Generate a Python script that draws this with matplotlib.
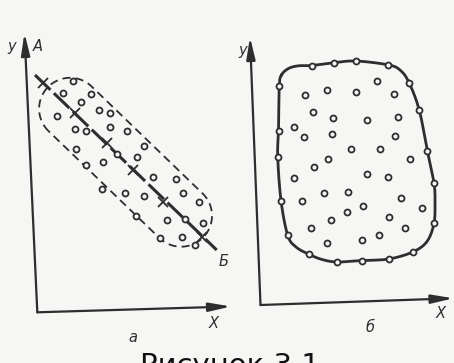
import numpy as np
import matplotlib
matplotlib.use("Agg")
import matplotlib.pyplot as plt
from matplotlib.patches import FancyArrowPatch

# ---------------- data (pixel coordinates of the scanned diagram) ----------------
# Panel a: points scattered along the line A-B
a_circles_x = [72.7, 63.3, 81, 90.7, 99.3, 110, 57.3, 75, 86, 110, 127.3, 144, 76, 117.3,
               136.7, 86, 103.3, 152.7, 175.7, 101.7, 125, 144, 183.3, 199.3, 136, 166.7,
               185, 202.7, 160, 181.7, 195]
a_circles_y = [80.7, 92.7, 101.7, 94.3, 110, 112.7, 115.7, 129.3, 131, 126.7, 130.7, 145.7,
               149.3, 154.3, 157.3, 165, 161.7, 176.7, 179, 189.3, 192.7, 196, 193.3, 202.3,
               216, 220, 219.3, 222.7, 238.3, 237.3, 245]
a_cross_x = [43.3, 75, 106.7, 133.3, 163.3, 201.7]
a_cross_y = [83.3, 113.3, 143.3, 170, 201.7, 236.7]
a_line_x = [35, 216.7]
a_line_y = [75, 250]
capsule_ends_x = [70.1, 181.0]
capsule_ends_y = [108.8, 215.7]
capsule_halfwidth = 31.0

# Panel b: interior points and points on the boundary
b_in_x = [376.7, 305, 326.7, 356, 394, 312.7, 332.7, 366.7, 398.3, 294.3, 304.3, 331.7,
          395.3, 350.7, 380, 328.3, 314, 410, 294.3, 366.7, 388.3, 324, 348.3, 301.7,
          400.7, 346.7, 363.3, 422, 330.7, 388.7, 310.7, 405, 326.7, 362, 379.3]
b_in_y = [81, 95, 90, 92.3, 94.3, 111.7, 117.7, 120, 116.7, 126.7, 136.7, 134.3, 135.7,
          149, 149, 159, 167.3, 159.3, 178.3, 174, 177.3, 192.7, 191.7, 201, 198.3, 211.7,
          206, 208.3, 220, 217.3, 227.7, 227.7, 243.3, 240, 235.3]
b_edge_x = [279.3, 311.7, 334, 356, 388, 409, 419.3, 427.3, 434, 434, 412.7, 388.7, 362,
            337.3, 309, 287.7, 281, 277.7, 278.5]
b_edge_y = [86, 65.5, 62.7, 61, 64.8, 82.5, 110.3, 150.5, 182.7, 223.3, 252, 259, 260.5,
            262, 254.3, 235.3, 200.5, 156.7, 130.5]
# boundary curve control points (clockwise)
b_curve_x = [281.5, 288.5, 298.5, 311.7, 334, 356, 388, 400, 409, 419.3, 427.3, 434, 435,
             434, 427, 412.7, 388.7, 362, 337.3, 322, 309, 296, 287.7, 281, 277.7, 278.5,
             279.3]
b_curve_y = [75, 68.5, 65.8, 65.5, 62.7, 61, 64.8, 70, 82.5, 110.3, 150.5, 182.7, 203,
             223.3, 241.5, 252, 259, 260.5, 262, 259.5, 254.3, 247, 235.3, 200.5, 156.7,
             130.5, 86]

# axes (pixel coordinates): origin, x-arrow tip, y-arrow tip
axes_origin = [(37.3, 312.3), (260.5, 305)]
axes_xtip = [(231, 306.5), (453.5, 298.3)]
axes_ytip = [(24.5, 33), (250, 37)]

INK = "#2e2e2e"
BG = "#f6f6f5"

fig = plt.figure(figsize=(4.54, 3.63), dpi=100, facecolor=BG)
ax = fig.add_axes([0, 0, 1, 1])
ax.set_xlim(0, 454)
ax.set_ylim(363, 0)
ax.axis("off")
ax.set_facecolor(BG)

# ---------------- axes with arrows ----------------
for (ox, oy), (xx, xy), (yx, yy) in zip(axes_origin, axes_xtip, axes_ytip):
    for tx, ty in [(xx, xy), (yx, yy)]:
        arr = FancyArrowPatch((ox, oy), (tx, ty), arrowstyle="-|>,head_length=6,head_width=1.2",
                              mutation_scale=2.2, color=INK, lw=1.6, shrinkA=0, shrinkB=0)
        ax.add_patch(arr)

# ---------------- panel a ----------------
p1 = np.array([capsule_ends_x[0], capsule_ends_y[0]])
p2 = np.array([capsule_ends_x[1], capsule_ends_y[1]])
d = (p2 - p1) / np.linalg.norm(p2 - p1)
ang0 = np.arctan2(d[1], d[0])
t1 = np.linspace(ang0 + np.pi / 2, ang0 + 3 * np.pi / 2, 60)
t2 = np.linspace(ang0 - np.pi / 2, ang0 + np.pi / 2, 60)
cap = np.vstack([p1 + capsule_halfwidth * np.c_[np.cos(t1), np.sin(t1)],
                 p2 + capsule_halfwidth * np.c_[np.cos(t2), np.sin(t2)]])
cap = np.vstack([cap, cap[:1]])
ax.plot(cap[:, 0], cap[:, 1], color=INK, lw=1.3, ls=(0, (4.5, 2.8)))

ax.plot(a_line_x, a_line_y, color=INK, lw=2.2, ls=(0, (7, 1.6)), solid_capstyle="butt")
ax.plot(a_cross_x, a_cross_y, ls="none", marker="x", ms=7, mew=1.3, color=INK)
ax.plot(a_circles_x, a_circles_y, ls="none", marker="o", ms=4.3, mew=1.3,
        mfc=BG, mec=INK)

# ---------------- panel b ----------------
def catmull_rom_closed(xs, ys, n=20):
    pts = np.c_[xs, ys]
    m = len(pts)
    out = []
    for i in range(m):
        p0, p1_, p2_, p3 = pts[i - 1], pts[i], pts[(i + 1) % m], pts[(i + 2) % m]
        t = np.linspace(0, 1, n, endpoint=False)[:, None]
        seg = 0.5 * ((2 * p1_) + (-p0 + p2_) * t + (2 * p0 - 5 * p1_ + 4 * p2_ - p3) * t ** 2
                     + (-p0 + 3 * p1_ - 3 * p2_ + p3) * t ** 3)
        out.append(seg)
    out = np.vstack(out)
    return np.vstack([out, out[:1]])

curve = catmull_rom_closed(b_curve_x, b_curve_y)
ax.plot(curve[:, 0], curve[:, 1], color=INK, lw=2.0)
ax.plot(b_edge_x, b_edge_y, ls="none", marker="o", ms=4.3, mew=1.3, mfc=BG, mec=INK)
ax.plot(b_in_x, b_in_y, ls="none", marker="o", ms=4.3, mew=1.3, mfc=BG, mec=INK)

# ---------------- labels ----------------
lab = dict(color=INK, fontsize=10.5, fontstyle="italic", family="DejaVu Sans",
           ha="center", va="center")
ax.text(11.5, 46.5, "y", **lab)
ax.text(37.5, 46.5, "A", **lab)
ax.text(224, 262, "Б", **lab)
ax.text(214, 323, "X", **lab)
ax.text(133, 337, "а", **lab)
ax.text(243, 50, "y", **lab)
ax.text(441, 313, "X", **lab)
ax.text(370, 328, "б", **lab)
ax.text(230, 352, "Рисунок 3.1", color="#111111", fontsize=21, family="DejaVu Sans",
        ha="center", va="top")

fig.savefig("out.png", dpi=100, facecolor=BG)
